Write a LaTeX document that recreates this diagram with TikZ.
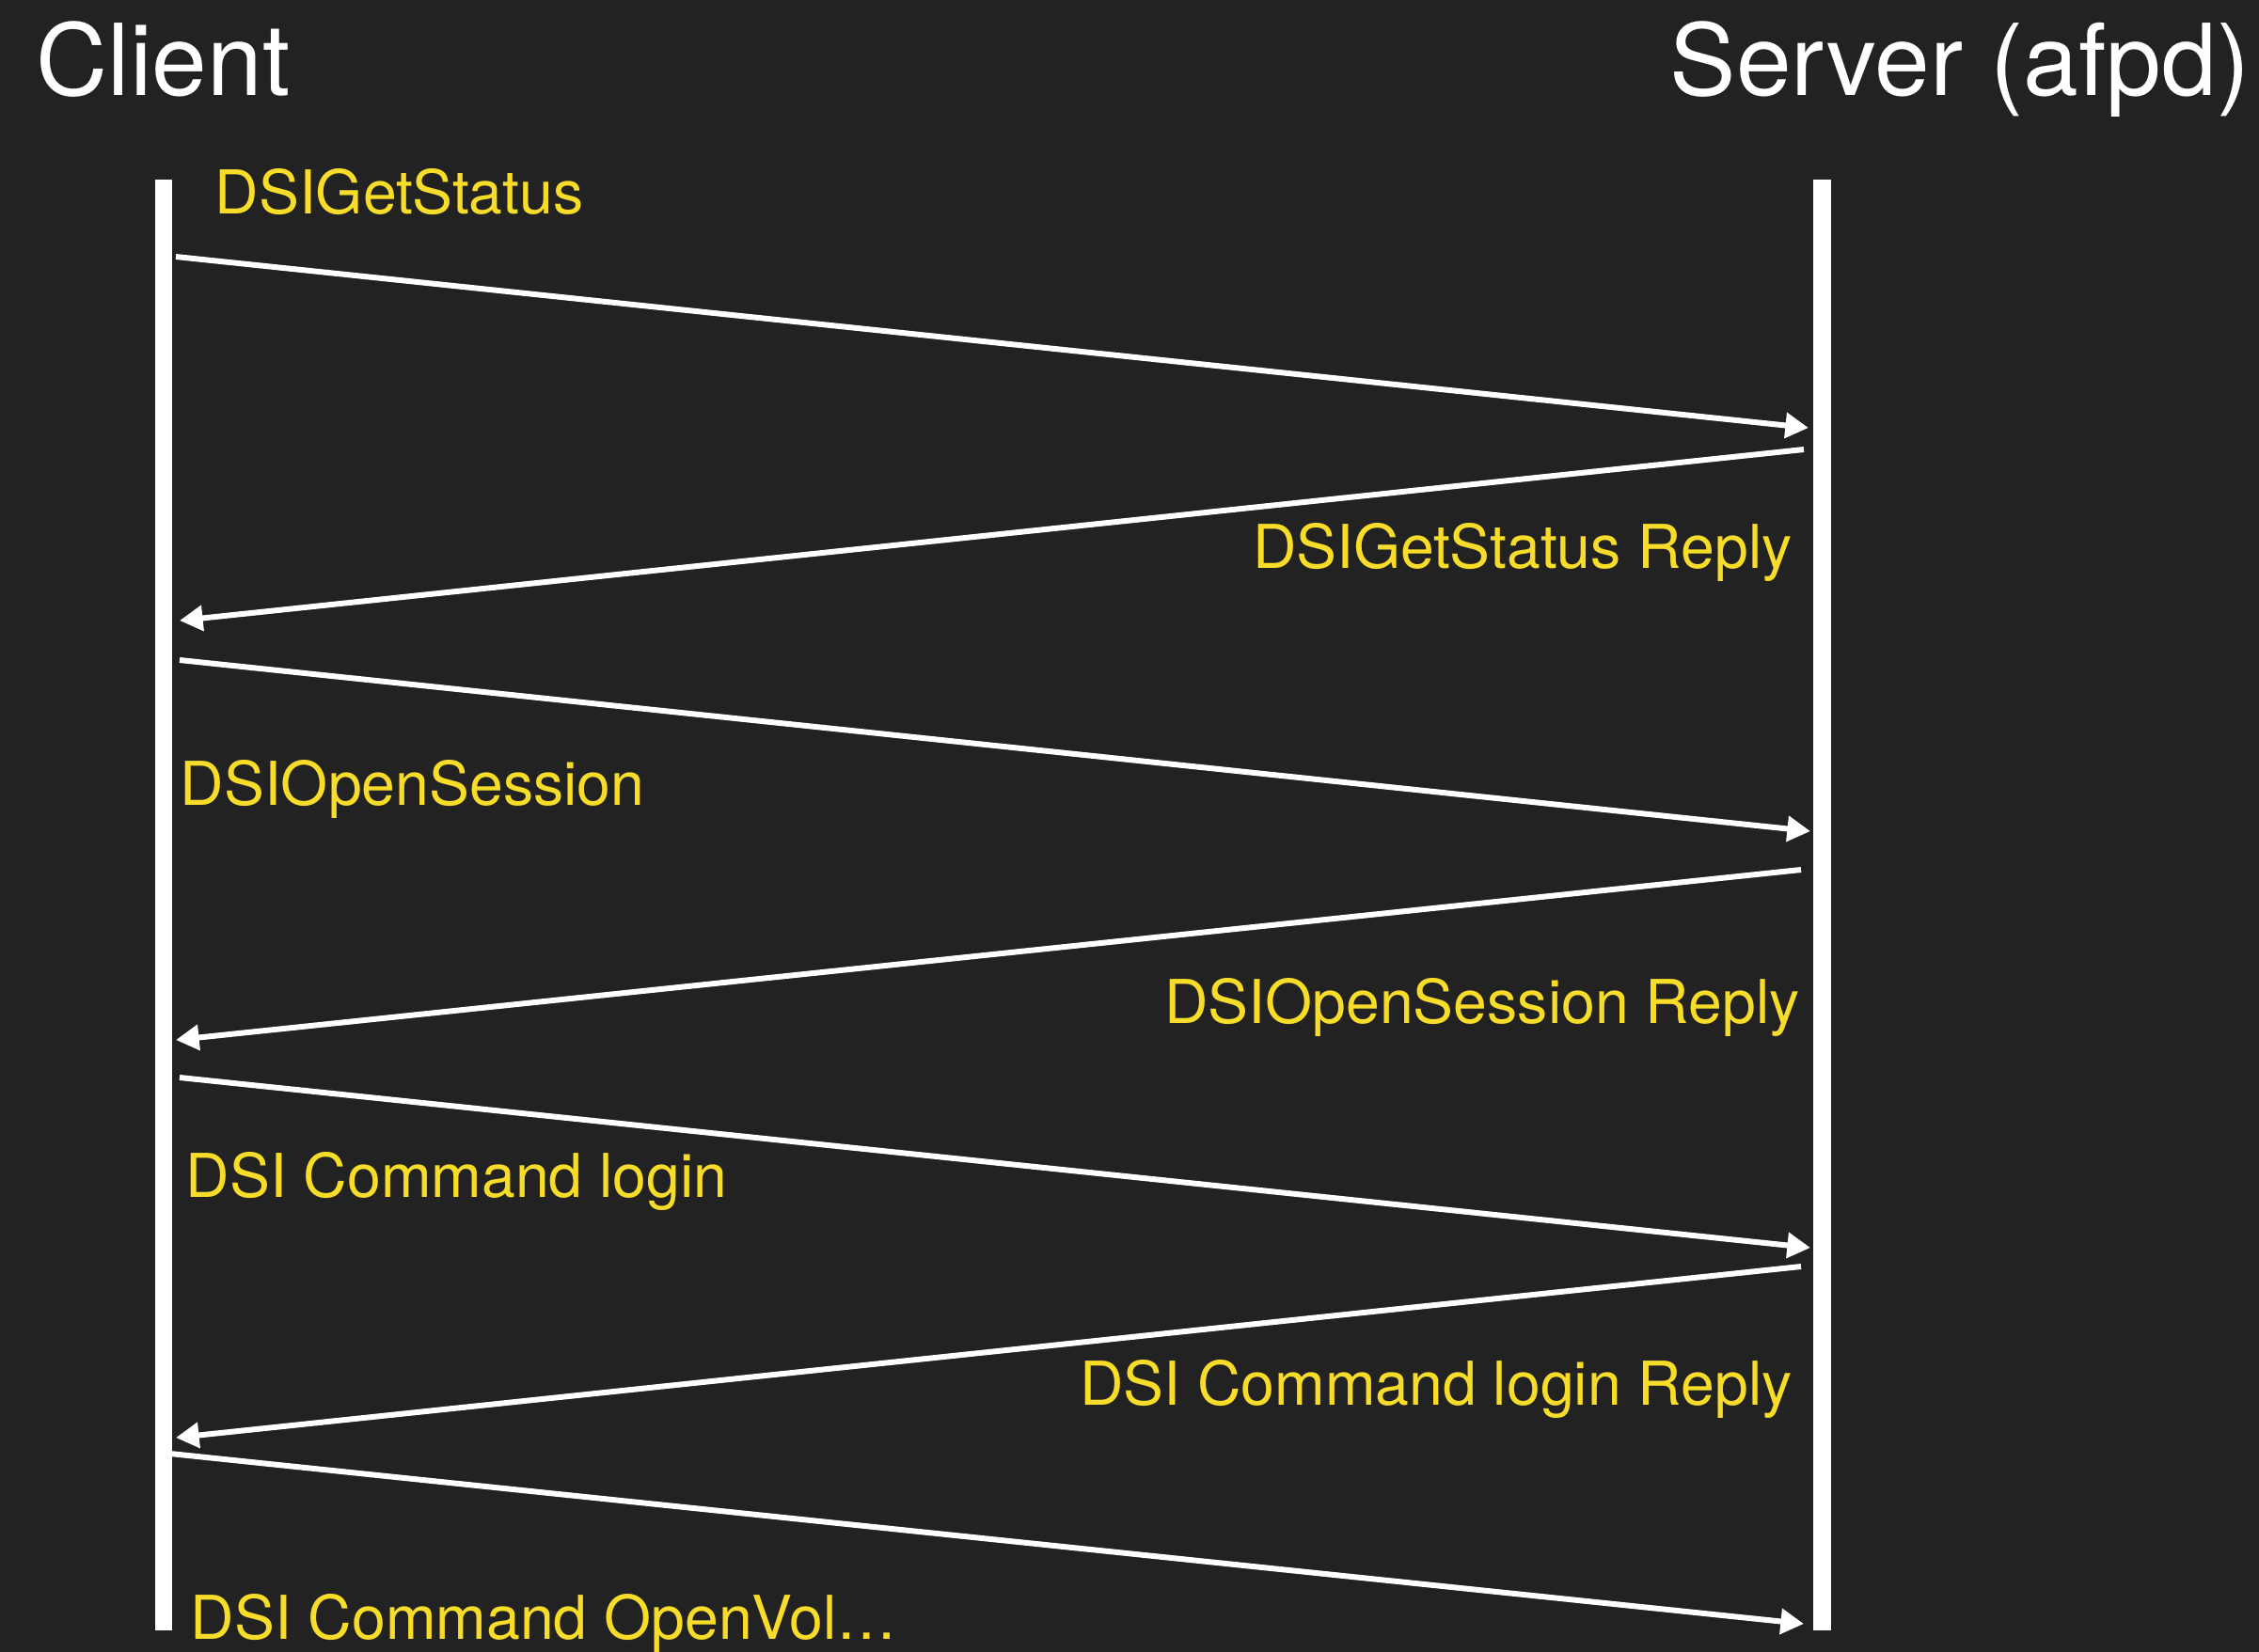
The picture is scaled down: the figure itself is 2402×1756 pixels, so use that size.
\documentclass[tikz,border=0pt]{standalone}
\usepackage{fontspec}
\setmainfont{TeX Gyre Heros}
\usepackage{xcolor}
\usetikzlibrary{arrows.meta}
\definecolor{bgdark}{HTML}{222222}
\definecolor{msgY}{HTML}{F7DC2A}

\begin{document}
\begin{tikzpicture}[x=0.01cm,y=-0.01cm,
  party/.style={text=white,font=\fontsize{30}{34}\selectfont,inner sep=0pt},
  life/.style={white,line width=5.4pt},
  msg/.style={-{Triangle[length=7pt,width=7.5pt]},white,line width=1.7pt},
  lbl/.style={text=msgY,font=\fontsize{18.3}{21}\selectfont,inner sep=0pt}]
\useasboundingbox (0,0) rectangle (2402,1756);
\fill[bgdark] (-20,-20) rectangle (2422,1776);
% parties
\node[party,anchor=base west] (client) at (38,101) {Client};
\node[party,anchor=base east] (server) at (2393,101) {Server (afpd)};
% lifelines
\coordinate (cTop) at (174,191);
\coordinate (cBot) at (174,1734);
\coordinate (sTop) at (1937,191);
\coordinate (sBot) at (1937,1734);
\draw[life] (cTop) -- (cBot);
\draw[life] (sTop) -- (sBot);
% message end points
\coordinate (c1) at (187,273);  \coordinate (s1) at (1923,455);
\coordinate (s2) at (1918,478); \coordinate (c2) at (191,660);
\coordinate (c3) at (191,702);  \coordinate (s3) at (1925,884);
\coordinate (s4) at (1915,925); \coordinate (c4) at (187,1106);
\coordinate (c5) at (191,1146); \coordinate (s5) at (1925,1327);
\coordinate (s6) at (1915,1347);\coordinate (c6) at (187,1529);
\coordinate (c7) at (181,1546); \coordinate (s7) at (1918,1727);
\draw[msg] (c1) -- (s1);
\draw[msg] (s2) -- (c2);
\draw[msg] (c3) -- (s3);
\draw[msg] (s4) -- (c4);
\draw[msg] (c5) -- (s5);
\draw[msg] (s6) -- (c6);
\draw[msg] (c7) -- (s7);
% labels
\node[lbl,anchor=base west] (m1) at (228,227) {DSIGetStatus};
\node[lbl,anchor=base east] (m2) at (1906,604) {DSIGetStatus Reply};
\node[lbl,anchor=base west] (m3) at (191,856) {DSIOpenSession};
\node[lbl,anchor=base east] (m4) at (1914,1088) {DSIOpenSession Reply};
\node[lbl,anchor=base west] (m5) at (197,1273) {DSI Command login};
\node[lbl,anchor=base east] (m6) at (1906,1494) {DSI Command login Reply};
\node[lbl,anchor=base west] (m7) at (202,1743) {DSI Command OpenVol…};
\end{tikzpicture}
\end{document}
